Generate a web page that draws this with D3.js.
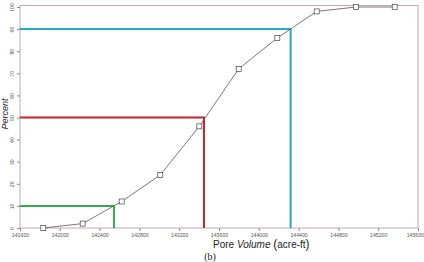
<!DOCTYPE html>
<html>
<head>
<meta charset="utf-8">
<script src="https://cdn.jsdelivr.net/npm/d3@7"></script>
<style>
  body { margin: 0; background: #fff; }
</style>
</head>
<body>
<script>
// cumulative pore volume points
volumes = [141834, 142230, 142622, 143010, 143402, 143798, 144186, 144582, 144977, 145366]
percents = [0, 2, 12, 24, 46, 72, 86, 98, 100, 100]

// percentile guide lines (P10, P50, P90)
guides = [
  {p: 10, v: 142545, color: "#3aa852"},
  {p: 50, v: 143449, color: "#c4232e"},
  {p: 90, v: 144320, color: "#2ba6c6"}
]

xTicks = d3.range(141600, 145601, 400)
yTicks = d3.range(0, 101, 10)

width = 424
height = 262
left = 20
right = 418
top_ = 7
bottom = 228

x = d3.scaleLinear().domain([141600, 145600]).range([left, right])
y = d3.scaleLinear().domain([0, 100]).range([bottom, top_])

function chart() {
  var svg = d3.select("body").append("svg")
    .attr("width", width)
    .attr("height", height)
    .attr("font-family", "Liberation Sans, Arial, sans-serif")

  // frame
  svg.append("rect")
    .attr("x", left)
    .attr("y", top_ - 1.5)
    .attr("width", right - left)
    .attr("height", bottom - top_ + 1.5)
    .attr("fill", "none")
    .attr("stroke", "#c4a6ae")
    .attr("stroke-width", 1)

  // x axis
  var xa = svg.append("g")
    .attr("transform", `translate(0,${bottom})`)
    .call(d3.axisBottom(x).tickValues(xTicks).tickSize(3).tickFormat(d3.format("d")))
  xa.select(".domain").remove()
  xa.selectAll(".tick line").attr("stroke", "#888")
  xa.selectAll(".tick text")
    .attr("font-size", 5.2)
    .attr("fill", "#555")
    .attr("dy", "0.5em")
  // last label would run off the edge, pull it in
  xa.selectAll(".tick text").filter(d => d === 145600)
    .attr("text-anchor", "end")
    .attr("x", 5.5)

  // y axis, labels turned on their side
  var ya = svg.append("g")
    .attr("transform", `translate(${left},0)`)
    .call(d3.axisLeft(y).tickValues(yTicks).tickSize(3))
  ya.select(".domain").remove()
  ya.selectAll(".tick line").attr("stroke", "#888")
  ya.selectAll(".tick text")
    .attr("font-size", 5.2)
    .attr("fill", "#555")
    .attr("x", 0)
    .attr("dy", 0)
    .attr("text-anchor", "middle")
    .attr("transform", "translate(-6,0) rotate(-90)")

  // guide lines
  guides.forEach(g => {
    svg.append("path")
      .attr("d", `M${x(141600)},${y(g.p)}H${x(g.v)}V${y(0)}`)
      .attr("fill", "none")
      .attr("stroke", g.color)
      .attr("stroke-width", 2)
  })

  // data line
  var pts = volumes.map((v, i) => [v, percents[i]])
  svg.append("path")
    .datum(pts)
    .attr("fill", "none")
    .attr("stroke", "#555")
    .attr("stroke-width", 0.8)
    .attr("d", d3.line().x(d => x(d[0])).y(d => y(d[1])))

  svg.selectAll("rect.pt")
    .data(pts)
    .join("rect")
      .attr("class", "pt")
      .attr("x", d => x(d[0]) - 2.5)
      .attr("y", d => y(d[1]) - 2.5)
      .attr("width", 5)
      .attr("height", 5)
      .attr("fill", "#fff")
      .attr("stroke", "#444")
      .attr("stroke-width", 0.7)

  // axis titles
  svg.append("text")
    .attr("transform", "translate(8,114) rotate(-90)")
    .attr("text-anchor", "middle")
    .attr("font-size", 9)
    .attr("font-style", "italic")
    .attr("fill", "#222")
    .text("Percent")

  var xt = svg.append("text")
    .attr("x", 213)
    .attr("y", 247.5)
    .attr("font-size", 10)
    .attr("fill", "#222")
  xt.append("tspan").text("Pore ")
  xt.append("tspan").attr("font-style", "italic").text("Volume")
  xt.append("tspan").text("  ")
  xt.append("tspan").attr("font-size", 12).text("(")
  xt.append("tspan").text("acre-ft")
  xt.append("tspan").attr("font-size", 12).text(")")

  svg.append("text")
    .attr("x", 210)
    .attr("y", 260)
    .attr("text-anchor", "middle")
    .attr("font-family", "Liberation Serif, Times New Roman, serif")
    .attr("font-size", 10)
    .attr("fill", "#222")
    .text("(b)")

  return svg.node()
}

chart()
</script>
</body>
</html>
